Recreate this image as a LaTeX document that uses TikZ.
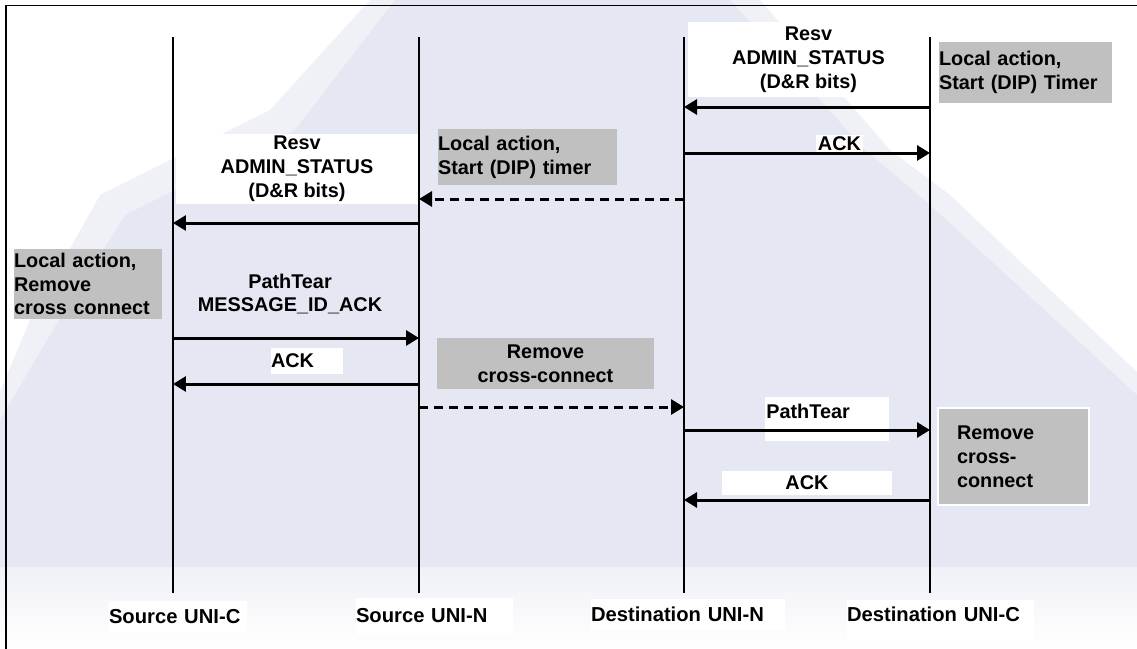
\documentclass[tikz,border=0pt]{standalone}
\usepackage{fontspec}
\setmainfont{Liberation Sans}
\usetikzlibrary{positioning}
\usetikzlibrary{arrows.meta}
\definecolor{lavender}{RGB}{229,232,242}
\definecolor{lavsoft}{RGB}{240,241,247}
\definecolor{notegrey}{RGB}{192,192,192}

\begin{document}
\begin{tikzpicture}[x=0.02cm, y=-0.02cm,
        msgfont/.style={font=\fontsize{11.3}{13.6}\selectfont\bfseries},
        whitebox/.style={fill=white, inner sep=0pt, msgfont},
        greybox/.style={fill=notegrey, inner sep=0pt, msgfont},
        namebox/.style={fill=white, inner sep=0pt, align=left, font=\fontsize{11.5}{13.6}\selectfont\bfseries},
        lifeline/.style={line width=0.04cm},
        msg/.style={line width=0.06cm, -{Triangle[length=0.26cm, width=0.3cm]}},
        dashmsg/.style={msg, dash pattern=on 0.18cm off 0.12cm}]
            % background and frame
            \useasboundingbox (0,0) rectangle (1137,649);
            \fill[white] (0,0) rectangle (1137,649);
            \fill[lavsoft] (370,0) -- (760,0) -- (890,150) -- (950,195) -- (1137,372) -- (1137,567) -- (0,567) -- (0,392) -- (30,320) -- (100,195) -- (270,110) -- cycle;
            \fill[lavender] (395,0) -- (730,0) -- (865,150) -- (930,205) -- (1137,395) -- (1137,567) -- (0,567) -- (0,420) -- (50,335) -- (125,215) -- (295,130) -- cycle;
            \shade[top color=lavsoft, bottom color=white] (0,567) rectangle (1137,649);
            \draw[line width=0.04cm] (6,649) -- (6,5.5) -- (1137,5.5);

            % labels and local actions
            \node[whitebox, minimum width=4.82cm, minimum height=1.5cm, align=center] (resvD) at (808.5,59.5) {Resv\\ADMIN\_STATUS\\(D\&R bits)};
            \node[greybox, text width=3.46cm, minimum height=1.22cm, align=left] (timerD) at (1025.5,72.5) {Local action,\\Start (DIP) Timer};
            \node[whitebox, minimum width=0.94cm, minimum height=0.36cm] (ackC) at (839.5,144) {ACK};
            \node[greybox, text width=3.58cm, minimum height=1.12cm, align=left] (timerN) at (527.5,157) {Local action,\\Start (DIP) timer};
            \node[whitebox, minimum width=4.84cm, minimum height=1.4cm, align=center] (resvN) at (297,169) {Resv\\ADMIN\_STATUS\\(D\&R bits)};
            \node[greybox, text width=2.96cm, minimum height=1.4cm, align=left] (xconS) at (88,284) {Local action,\\Remove\\cross connect};
            \node[msgfont, align=center] (tearS) at (290,294) {PathTear\\MESSAGE\_ID\_ACK};
            \node[whitebox, text width=1.44cm, minimum height=0.52cm, align=left] (ackS) at (307,361) {ACK};
            \node[greybox, minimum width=4.34cm, minimum height=1.02cm, align=center] (xconN) at (545.5,363.5) {Remove\\cross-connect};
            \node[whitebox, minimum width=2.48cm, minimum height=0.88cm] (tearBox) at (827,419) {};
            \node[msgfont, anchor=north west, inner sep=0pt] (tearD) at (766,404) {PathTear};
            \node[greybox, draw=white, line width=0.04cm, text width=2.26cm, inner xsep=0.38cm, minimum height=1.94cm, align=left] (xconD) at (1013.5,456.5) {Remove\\cross-\\connect};
            \node[whitebox, minimum width=3.4cm, minimum height=0.48cm] (ackD) at (807,483) {ACK};

            % entity names
            \node[namebox, text width=2.76cm, minimum height=0.64cm] (nameSC) at (178,617) {Source UNI-C};
            \node[namebox, text width=3.14cm, minimum height=0.72cm] (nameSN) at (434.5,616) {Source UNI-N};
            \node[namebox, text width=3.88cm, minimum height=0.62cm] (nameDN) at (688,614.5) {Destination UNI-N};
            \node[namebox, text width=3.74cm, minimum height=0.84cm, text depth=0.26cm] (nameDC) at (940.5,621) {Destination UNI-C};

            % lifelines
            \coordinate (srcC) at (173,37);
            \coordinate (srcN) at (419,37);
            \coordinate (dstN) at (684,37);
            \coordinate (dstC) at (930,37);
            \foreach \l in {srcC,srcN,dstN,dstC}
                \draw[lifeline] (\l) -- (\l |- 0,593);

            % messages
            \draw[msg] (dstC |- 0,107) -- (dstN |- 0,107);
            \draw[msg] (dstN |- 0,153) -- (dstC |- 0,153);
            \draw[dashmsg] (dstN |- 0,199) -- (srcN |- 0,199);
            \draw[msg] (srcN |- 0,223) -- (srcC |- 0,223);
            \draw[msg] (srcC |- 0,338) -- (srcN |- 0,338);
            \draw[msg] (srcN |- 0,384) -- (srcC |- 0,384);
            \draw[dashmsg] (srcN |- 0,407) -- (dstN |- 0,407);
            \draw[msg] (dstN |- 0,430) -- (dstC |- 0,430);
            \draw[msg] (dstC |- 0,500) -- (dstN |- 0,500);
        \end{tikzpicture}
\end{document}
